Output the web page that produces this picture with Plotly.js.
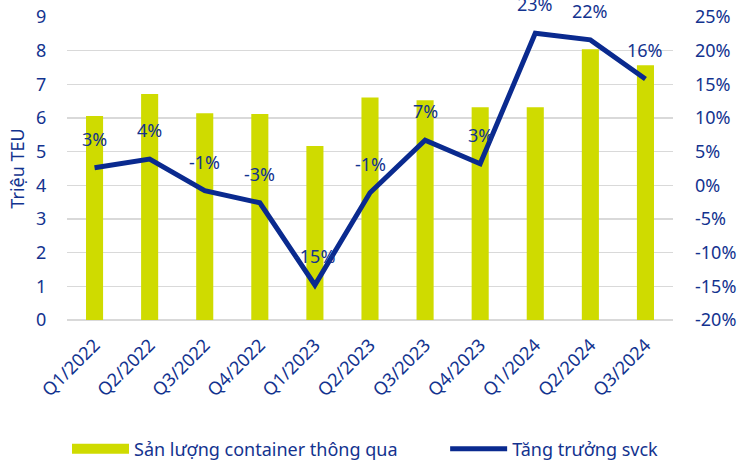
<!DOCTYPE html>
<html>
<head>
<meta charset="utf-8">
<script src="https://cdn.plot.ly/plotly-3.0.1.min.js"></script>
<style>html,body{margin:0;padding:0;background:#fff;}#chart{width:746px;height:464px;}</style>
</head>
<body>
<div id="chart"></div>
<script>
const categories = ["Q1/2022","Q2/2022","Q3/2022","Q4/2022","Q1/2023","Q2/2023","Q3/2023","Q4/2023","Q1/2024","Q2/2024","Q3/2024"];
const volume = [6.06, 6.71, 6.14, 6.12, 5.17, 6.61, 6.53, 6.32, 6.32, 8.04, 7.57];
const growth = [0.026, 0.039, -0.008, -0.026, -0.148, -0.011, 0.067, 0.032, 0.226, 0.216, 0.158];
const growthLabels = ["3%","4%","-1%","-3%","-15%","-1%","7%","3%","23%","22%","16%"];
const rightTickVals = [-0.20,-0.15,-0.10,-0.05,0,0.05,0.10,0.15,0.20,0.25];
const rightTickLabels = ["-20%","-15%","-10%","-5%","0%","5%","10%","15%","20%","25%"];
const seriesNames = ["Sản lượng container thông qua", "Tăng trưởng svck"];

const BAR = "#cfdb00";
const NAVY = "#0a2a8f";
const TXT = "#13338f";
const FONT = "'Noto Sans', 'Open Sans', sans-serif";
const FS = 18;

const traces = [
  {type:"bar", x:categories, y:volume, name:seriesNames[0], marker:{color:BAR}, width:0.31, showlegend:false, yaxis:"y", hoverinfo:"skip"},
  {type:"scatter", mode:"lines", x:[null], y:[null], name:seriesNames[0], line:{color:BAR, width:12}, showlegend:true, legend:"legend", yaxis:"y"},
  {type:"scatter", mode:"lines", x:categories, y:growth, name:seriesNames[1], line:{color:NAVY, width:5}, yaxis:"y2", legend:"legend2"}
];

const annotations = categories.map((c,i)=>({
  x:c, y:growth[i], xref:"x", yref:"y2", text:growthLabels[i], showarrow:false,
  yshift:29, font:{family:FONT, size:FS, color:TXT}
}));

const legendBase = {orientation:"h", xanchor:"left", y:-0.426, yanchor:"middle", itemwidth:57, font:{size:FS, color:TXT}, bgcolor:"rgba(0,0,0,0)"};

const layout = {
  width:746, height:464,
  margin:{l:67, r:73, t:17, b:144, autoexpand:false},
  paper_bgcolor:"#fff", plot_bgcolor:"#fff",
  font:{family:FONT, size:FS, color:TXT},
  bargap:0.69,
  xaxis:{type:"category", tickangle:-45, showgrid:false, showline:false, ticks:"", automargin:false, ticklabelstandoff:10, tickfont:{size:FS, color:TXT}, fixedrange:true},
  yaxis:{range:[0,9], dtick:1, showgrid:true, gridcolor:"#d9d9d9", gridwidth:1.5, zeroline:true, zerolinecolor:"#d9d9d9", zerolinewidth:1.5, showline:false, ticks:"outside", ticklen:16, tickcolor:"rgba(0,0,0,0)", automargin:false, tickfont:{size:FS, color:TXT}, title:{text:"Triệu TEU", font:{size:FS, color:TXT}, standoff:6}},
  yaxis2:{range:[-0.20,0.25], tickmode:"array", tickvals:rightTickVals, ticktext:rightTickLabels, overlaying:"y", side:"right", showgrid:false, zeroline:false, showline:false, ticks:"", automargin:false, ticklabelstandoff:21, tickfont:{size:FS, color:TXT}},
  legend:Object.assign({}, legendBase, {x:0.0}),
  legend2:Object.assign({}, legendBase, {x:0.624}),
  annotations:annotations,
  showlegend:true
};

Plotly.newPlot("chart", traces, layout, {displayModeBar:false, staticPlot:true});
</script>
</body>
</html>
